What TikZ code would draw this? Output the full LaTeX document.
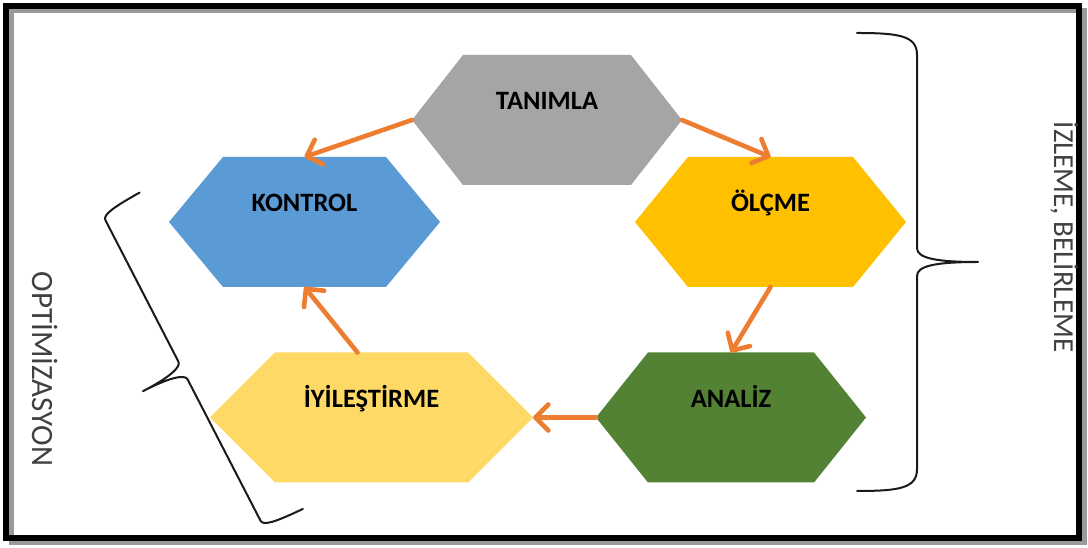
\documentclass[tikz,border=0pt]{standalone}
\usepackage{fontspec}
\setmainfont{Carlito}
\usetikzlibrary{arrows.meta}

\definecolor{tanc}{HTML}{A5A5A5}
\definecolor{konc}{HTML}{5B9BD5}
\definecolor{olcc}{HTML}{FFC000}
\definecolor{anac}{HTML}{548235}
\definecolor{iyic}{HTML}{FFD966}
\definecolor{arrowc}{HTML}{ED7D31}
\definecolor{sidec}{HTML}{404040}
\definecolor{bracec}{HTML}{1A1A1A}
\definecolor{shadowc}{HTML}{9A9A9A}

% hexagon: name, centre x, centre y, half width, corner slant, fill, label
\newcommand\hexagonnode[7]{%
  \node[hexframe, minimum width={2*#4bp}, minimum height=130bp] (#1) at (#2,#3) {};
  \fill[#6] (#1.west) -- ([xshift=#5bp]#1.north west) -- ([xshift=-#5bp]#1.north east)
    -- (#1.east) -- ([xshift=-#5bp]#1.south east) -- ([xshift=#5bp]#1.south west) -- cycle;
  \node[hexlabel] (#1-text) at ([yshift=10bp]#1.center) {#7};
}

\begin{document}
\begin{tikzpicture}[x=1bp,y=1bp,
  hexframe/.style={rectangle, draw=none, inner sep=0pt, outer sep=0pt},
  hexlabel/.style={font=\bfseries\fontsize{26.5bp}{30bp}\selectfont, text=black, anchor=base, inner sep=0pt},
  flow/.style={draw=arrowc, line width=4.6bp, line cap=round,
    -{Straight Barb[length=13bp,width=26bp,round]}},
  bracepath/.style={draw=bracec, line width=2bp, line cap=round, line join=round},
  sidetext/.style={text=sidec, rotate=-90, anchor=base, inner sep=0pt}]

\useasboundingbox (0,0) rectangle (1088,548);
\fill[white] (0,0) rectangle (1088,548);

% frame with its shadow
\draw[shadowc, line width=5bp] (11,5) rectangle (1084,537);
\draw[black, line width=5.5bp] (6,10) rectangle (1079,542);

% process steps
\hexagonnode{tan}{547}{428}{135}{51}{tanc}{TANIMLA}
\hexagonnode{kon}{304.5}{326}{135.5}{54}{konc}{KONTROL}
\hexagonnode{olc}{770.5}{326}{135.5}{53}{olcc}{ÖLÇME}
\hexagonnode{ana}{731}{130.5}{135}{52}{anac}{ANALİZ}
\hexagonnode{iyi}{371.5}{130.5}{161.5}{65}{iyic}{İYİLEŞTİRME}

% cycle arrows
\draw[flow] (tan.west) -- (kon.north);
\draw[flow] (tan.east) -- (olc.north);
\draw[flow] (olc.south) -- (ana.north);
\draw[flow] (ana.west) -- (iyi.east);
\draw[flow] ([xshift=-14bp]iyi.north) -- (kon.south);

% right brace
\draw[bracepath] (857,515) .. controls (900,515) and (917,512) .. (917,493)
  -- (917,300) .. controls (917,290) and (935,286) .. (978,286)
  .. controls (935,286) and (917,282) .. (917,272)
  -- (917,79) .. controls (917,60) and (900,57) .. (857,57);

% tilted left brace
\begin{scope}[shift={(183,177.5)}, rotate=207.3]
  \draw[bracepath] (-43,-178) .. controls (-12,-177) and (0,-175) .. (0,-169)
    -- (0,-10) .. controls (0,-4) and (15,0) .. (45,0)
    .. controls (15,0) and (0,4) .. (0,10)
    -- (0,169) .. controls (0,175) and (-12,177) .. (-43,178);
\end{scope}

% side captions
\node[sidetext, font=\fontsize{29bp}{32bp}\selectfont] (izleme) at (1054,311) {İZLEME, BELİRLEME};
\node[sidetext, font=\fontsize{31bp}{34bp}\selectfont] (optim) at (32,179) {OPTİMİZASYON};
\end{tikzpicture}
\end{document}
